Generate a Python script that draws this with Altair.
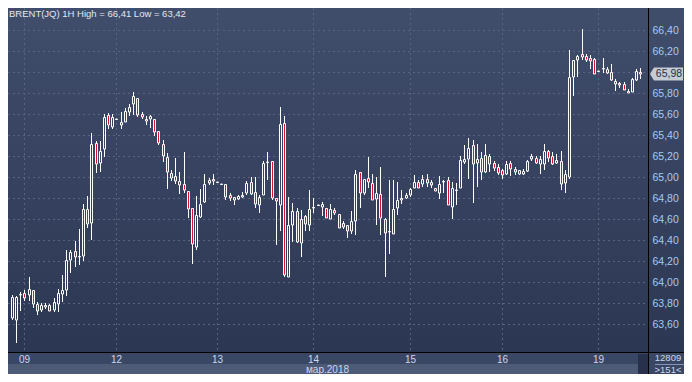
import json
import altair as alt
import pandas as pd

# ---- data (hourly candles, BRENT 1H) ----
open_ = [63.66, 63.64, 63.88, 63.90, 63.88, 63.93, 63.79, 63.74, 63.77, 63.78,
         63.74, 63.79, 63.89, 63.93, 64.21, 64.30, 64.24, 64.25, 64.70, 64.56,
         65.32, 65.13, 65.27, 65.59, 65.48, 65.55, 65.49, 65.52, 65.62, 65.69,
         65.75, 65.60, 65.55, 65.55, 65.55, 65.44, 65.31, 65.19, 65.04, 65.01,
         64.96, 64.93, 64.87, 64.71, 64.34, 64.62, 64.76, 64.94, 64.98, 64.95,
         64.93, 64.93, 64.83, 64.78, 64.79, 64.81, 64.85, 64.95, 64.86, 64.73,
         64.83, 65.14, 65.15, 64.80, 64.73, 65.51, 64.05, 64.54, 64.68, 64.37,
         64.63, 64.54, 64.71, 64.73, 64.72, 64.71, 64.60, 64.69, 64.65, 64.56,
         64.54, 64.49, 64.58, 65.05, 64.85, 64.99, 64.94, 64.79, 64.84, 64.60,
         64.49, 64.46, 64.71, 64.78, 64.80, 64.83, 64.90, 64.95, 64.93, 64.98,
         64.95, 64.90, 64.85, 64.95, 64.97, 64.72, 64.88, 64.90, 65.14, 65.17,
         65.30, 65.13, 65.18, 65.05, 65.20, 65.13, 65.10, 65.07, 65.03, 65.13,
         65.08, 65.07, 65.03, 65.06, 65.17, 65.18, 65.12, 65.12, 65.25, 65.20,
         65.13, 65.15, 64.94, 65.00, 65.95, 66.11, 66.17, 66.15, 66.13, 66.12,
         66.01, 66.03, 66.03, 66.00, 65.91, 65.89, 65.88, 65.82, 65.81, 65.92,
         66.00]
high = [63.88, 63.87, 63.91, 63.93, 64.05, 63.93, 63.81, 63.80, 63.80, 63.79,
        63.85, 63.94, 64.07, 64.31, 64.31, 64.39, 64.51, 64.74, 64.82, 65.42,
        65.34, 65.34, 65.60, 65.61, 65.60, 65.55, 65.62, 65.66, 65.69, 65.81,
        65.75, 65.62, 65.58, 65.59, 65.55, 65.44, 65.35, 65.23, 65.07, 65.18,
        65.05, 65.24, 64.87, 64.71, 64.82, 64.89, 65.03, 64.99, 65.03, 64.95,
        64.93, 64.93, 64.85, 64.81, 64.83, 64.86, 64.96, 65.00, 65.00, 64.83,
        65.15, 65.24, 65.15, 64.80, 65.67, 65.58, 64.81, 64.75, 64.71, 64.69,
        64.64, 64.88, 64.80, 64.73, 64.76, 64.71, 64.74, 64.71, 64.65, 64.58,
        64.54, 64.68, 65.07, 65.05, 64.98, 65.19, 65.03, 65.00, 65.10, 64.61,
        64.97, 64.97, 64.95, 64.88, 64.85, 64.90, 65.02, 64.97, 65.02, 65.03,
        64.97, 64.90, 65.01, 64.97, 65.00, 64.95, 64.94, 65.20, 65.30, 65.37,
        65.35, 65.31, 65.24, 65.31, 65.22, 65.15, 65.12, 65.08, 65.15, 65.15,
        65.10, 65.07, 65.08, 65.16, 65.22, 65.20, 65.20, 65.31, 65.26, 65.24,
        65.22, 65.25, 65.07, 66.21, 66.11, 66.16, 66.41, 66.17, 66.16, 66.13,
        66.01, 66.13, 66.05, 66.07, 65.93, 65.90, 65.90, 65.84, 65.94, 66.03,
        66.04]
low = [63.64, 63.42, 63.73, 63.82, 63.82, 63.76, 63.69, 63.72, 63.75, 63.73,
       63.72, 63.72, 63.81, 63.87, 64.09, 64.15, 64.16, 64.20, 64.52, 64.40,
       65.04, 65.05, 65.19, 65.46, 65.46, 65.55, 65.46, 65.52, 65.58, 65.59,
       65.57, 65.55, 65.49, 65.47, 65.39, 65.30, 65.14, 64.89, 64.96, 64.93,
       64.84, 64.85, 64.61, 64.17, 64.31, 64.61, 64.75, 64.92, 64.92, 64.95,
       64.93, 64.78, 64.77, 64.73, 64.78, 64.80, 64.83, 64.83, 64.71, 64.66,
       64.83, 64.97, 64.78, 64.35, 64.49, 64.05, 64.05, 64.38, 64.37, 64.24,
       64.49, 64.49, 64.66, 64.73, 64.63, 64.61, 64.60, 64.64, 64.52, 64.51,
       64.42, 64.46, 64.45, 64.71, 64.83, 64.90, 64.78, 64.54, 64.45, 64.05,
       64.27, 64.46, 64.64, 64.74, 64.79, 64.81, 64.90, 64.90, 64.91, 64.91,
       64.90, 64.87, 64.79, 64.85, 64.73, 64.60, 64.73, 64.90, 65.12, 64.98,
       64.75, 64.91, 64.97, 65.04, 65.05, 65.06, 65.02, 64.98, 65.02, 65.01,
       65.02, 65.02, 65.02, 65.05, 65.15, 65.12, 65.03, 65.07, 65.14, 65.11,
       65.12, 64.88, 64.85, 64.98, 65.77, 65.95, 66.11, 66.09, 66.03, 65.98,
       66.01, 65.99, 65.98, 65.91, 65.82, 65.85, 65.83, 65.80, 65.81, 65.91,
       65.93]
close = [63.86, 63.86, 63.89, 63.85, 63.94, 63.79, 63.73, 63.78, 63.78, 63.73,
         63.81, 63.90, 63.93, 64.21, 64.29, 64.24, 64.25, 64.70, 64.55, 65.31,
         65.12, 65.25, 65.57, 65.49, 65.57, 65.55, 65.52, 65.63, 65.67, 65.77,
         65.59, 65.57, 65.53, 65.58, 65.43, 65.32, 65.20, 65.05, 64.99, 64.96,
         64.92, 64.88, 64.70, 64.36, 64.64, 64.74, 64.93, 64.97, 64.96, 64.95,
         64.93, 64.81, 64.80, 64.81, 64.82, 64.83, 64.94, 64.84, 64.74, 64.81,
         65.13, 65.14, 64.80, 64.77, 65.50, 64.07, 64.54, 64.68, 64.38, 64.60,
         64.55, 64.70, 64.72, 64.73, 64.74, 64.61, 64.70, 64.66, 64.52, 64.53,
         64.49, 64.58, 65.03, 64.85, 64.98, 64.95, 64.78, 64.85, 64.61, 64.47,
         64.48, 64.70, 64.78, 64.80, 64.83, 64.89, 64.95, 64.90, 64.98, 64.94,
         64.92, 64.87, 64.93, 64.96, 64.73, 64.90, 64.88, 65.16, 65.17, 65.28,
         65.12, 65.17, 65.05, 65.21, 65.12, 65.09, 65.04, 65.02, 65.12, 65.08,
         65.05, 65.03, 65.06, 65.15, 65.20, 65.13, 65.17, 65.25, 65.18, 65.12,
         65.16, 64.93, 65.03, 65.95, 66.11, 66.15, 66.14, 66.11, 66.10, 65.98,
         66.01, 66.04, 65.99, 65.92, 65.88, 65.87, 65.83, 65.80, 65.93, 66.01,
         65.98]

day_ticks = [3, 25, 49, 72, 95, 117, 140]
day_labels = ["09", "12", "13", "14", "15", "16", "19"]
price_ticks = [63.6, 63.8, 64.0, 64.2, 64.4, 64.6, 64.8, 65.0, 65.2, 65.4,
               65.6, 65.8, 66.0, 66.2, 66.4]
month_label = "мар.2018"
instrument = "BRENT(JQ) 1H"
footer_top = "12809"
footer_bottom = ">151<"

# ---- styling / layout ----
W, H = 640, 344
PAD_R, PAD_B = 36, 22
TOTAL_W, TOTAL_H = W + PAD_R, H + PAD_B
PANEL = "#3a4764"
STRIP = "#4d5b77"
GRAD_TOP = "#404d6b"
GRAD_BOT = "#2c3753"
GRID = "#58647f"
RED = "#dc1030"
LABEL_BLUE = "#a4cbf2"
LABEL_LIGHT = "#c9d8ee"
FONT = "Liberation Sans"


def comma(v):
    return f"{v:.2f}".replace(".", ",")


title_text = f"{instrument} High = {comma(max(high))} Low = {comma(min(low))}"
last_close = close[-1]

df = pd.DataFrame({"i": list(range(len(open_))), "o": open_, "h": high,
                   "l": low, "c": close})
one = pd.DataFrame({"a": [0]})

xs = alt.Scale(domain=[0.3, 150.65], nice=False, zero=False, round=True)
ys = alt.Scale(domain=[63.338, 66.606], nice=False, zero=False, round=True)

x_label_expr = (f"{json.dumps(day_labels)}"
                f"[indexof({json.dumps(day_ticks)}, datum.value)]")
y_label_expr = (f"abs(datum.value - {last_close}) < 0.1 ? '' : "
                "replace(format(datum.value, '.2f'), '.', ',')")

x_axis = alt.Axis(values=day_ticks, labelExpr=x_label_expr, orient="bottom",
                  grid=False, domain=False, ticks=False, tickSize=0,
                  labelPadding=7, labelBaseline="middle", labelFlush=False,
                  labelOverlap=False, labelColor=LABEL_LIGHT, labelFont=FONT,
                  labelFontSize=10, title=month_label, titleX=319, titleY=17,
                  titleColor=LABEL_LIGHT, titleFont=FONT, titleFontSize=10,
                  titleFontWeight="normal", titleBaseline="middle",
                  titleAlign="center", zindex=1)
y_axis = alt.Axis(values=price_ticks, labelExpr=y_label_expr, orient="right",
                  grid=False, domain=False, ticks=False, tickSize=0,
                  labelPadding=4, labelFlush=False, labelOverlap=False,
                  labelColor=LABEL_BLUE, labelFont=FONT, labelFontSize=10.5,
                  title=None, zindex=1)

X = lambda f: alt.X(f, scale=xs, axis=x_axis)
Y = lambda f: alt.Y(f, scale=ys, axis=y_axis)

# background gradient (plot + right panel)
bg = alt.Chart(one).mark_rect(
    fill=alt.Gradient(gradient="linear",
                      stops=[alt.GradientStop(color=GRAD_TOP, offset=0),
                             alt.GradientStop(color=GRAD_BOT, offset=1)],
                      x1=0, x2=0, y1=0, y2=1)
).encode(x=alt.value(0), x2=alt.value(TOTAL_W), y=alt.value(0), y2=alt.value(H))

strip = alt.Chart(one).mark_rect(fill=STRIP).encode(
    x=alt.value(0), x2=alt.value(630), y=alt.value(356), y2=alt.value(TOTAL_H))
thumb = alt.Chart(one).mark_rect(fill="#27314b").encode(
    x=alt.value(630), x2=alt.value(640), y=alt.value(346), y2=alt.value(TOTAL_H))

hgrid = alt.Chart(pd.DataFrame({"v": price_ticks})).mark_rule(
    color=GRID, strokeDash=[2, 3], strokeWidth=1, yOffset=0.5
).encode(y=Y("v:Q"), x=alt.value(0), x2=alt.value(W))

vgrid = alt.Chart(pd.DataFrame({"d": day_ticks})).mark_rule(
    color=GRID, strokeDash=[2, 3], strokeWidth=1, xOffset=0.5
).encode(x=X("d:Q"), y=alt.value(0), y2=alt.value(H))

base = alt.Chart(df).transform_calculate(
    top="max(datum.o, datum.c)", bot="min(datum.o, datum.c)",
    up="datum.c >= datum.o")

wick_up = base.mark_rule(color="white", strokeWidth=1, clip=True, xOffset=0.5).encode(
    x=X("i:Q"), y=Y("h:Q"), y2="top:Q")
wick_dn = base.mark_rule(color="white", strokeWidth=1, clip=True, xOffset=0.5).encode(
    x=X("i:Q"), y=Y("bot:Q"), y2="l:Q")
body = base.mark_bar(width=2, stroke="white", strokeWidth=1, clip=True,
                     xOffset=0.5, yOffset=0.5).encode(
    x=X("i:Q"), y=Y("top:Q"), y2="bot:Q",
    fill=alt.condition("datum.up", alt.value("transparent"), alt.value(RED)))

vline = alt.Chart(one).mark_rule(color="black", strokeWidth=1).encode(
    x=alt.value(W + 0.5), y=alt.value(0), y2=alt.value(TOTAL_H))
hline = alt.Chart(one).mark_rule(color="black", strokeWidth=1).encode(
    y=alt.value(H + 0.5), x=alt.value(0), x2=alt.value(TOTAL_W))
divider = alt.Chart(one).mark_rule(color="#8595b3", strokeWidth=1).encode(
    y=alt.value(356.5), x=alt.value(647), x2=alt.value(TOTAL_W))

last_df = pd.DataFrame({"v": [last_close]})
box_path = "M-1,0L-0.76,-0.394L1,-0.394L1,0.394L-0.76,0.394Z"
box = alt.Chart(last_df).mark_point(
    shape=box_path, filled=True, fill="#c6cad3", opacity=1, size=1089, strokeWidth=0
).encode(x=alt.value(658.5), y=Y("v:Q"))
box_text = alt.Chart(last_df).transform_calculate(
    lab="replace(format(datum.v, '.2f'), '.', ',')"
).mark_text(color="#22304e", font=FONT, fontSize=10.5, align="center",
            baseline="middle").encode(
    x=alt.value(661), y=Y("v:Q"), text="lab:N")

title = alt.Chart(one).mark_text(
    align="left", baseline="top", color="#e4e7ee", font=FONT, fontSize=9.5
).encode(x=alt.value(1), y=alt.value(1), text=alt.value(title_text))

foot1 = alt.Chart(one).mark_text(
    align="center", baseline="middle", color=LABEL_LIGHT, font=FONT, fontSize=9.5
).encode(x=alt.value(660), y=alt.value(350), text=alt.value(footer_top))
foot2 = alt.Chart(one).mark_text(
    align="center", baseline="middle", color=LABEL_LIGHT, font=FONT, fontSize=9.5
).encode(x=alt.value(660), y=alt.value(361.5), text=alt.value(footer_bottom))

chart = alt.layer(
    bg, strip, thumb, hgrid, vgrid, wick_up, wick_dn, body,
    vline, hline, divider, box, box_text, title, foot1, foot2
).properties(
    width=W, height=H,
    autosize=alt.AutoSizeParams(type="none"),
    padding={"left": 0, "top": 0, "right": PAD_R, "bottom": PAD_B},
    background=PANEL,
).configure_view(stroke=None)

chart.save("out.html", embed_options={"renderer": "svg", "actions": False})
